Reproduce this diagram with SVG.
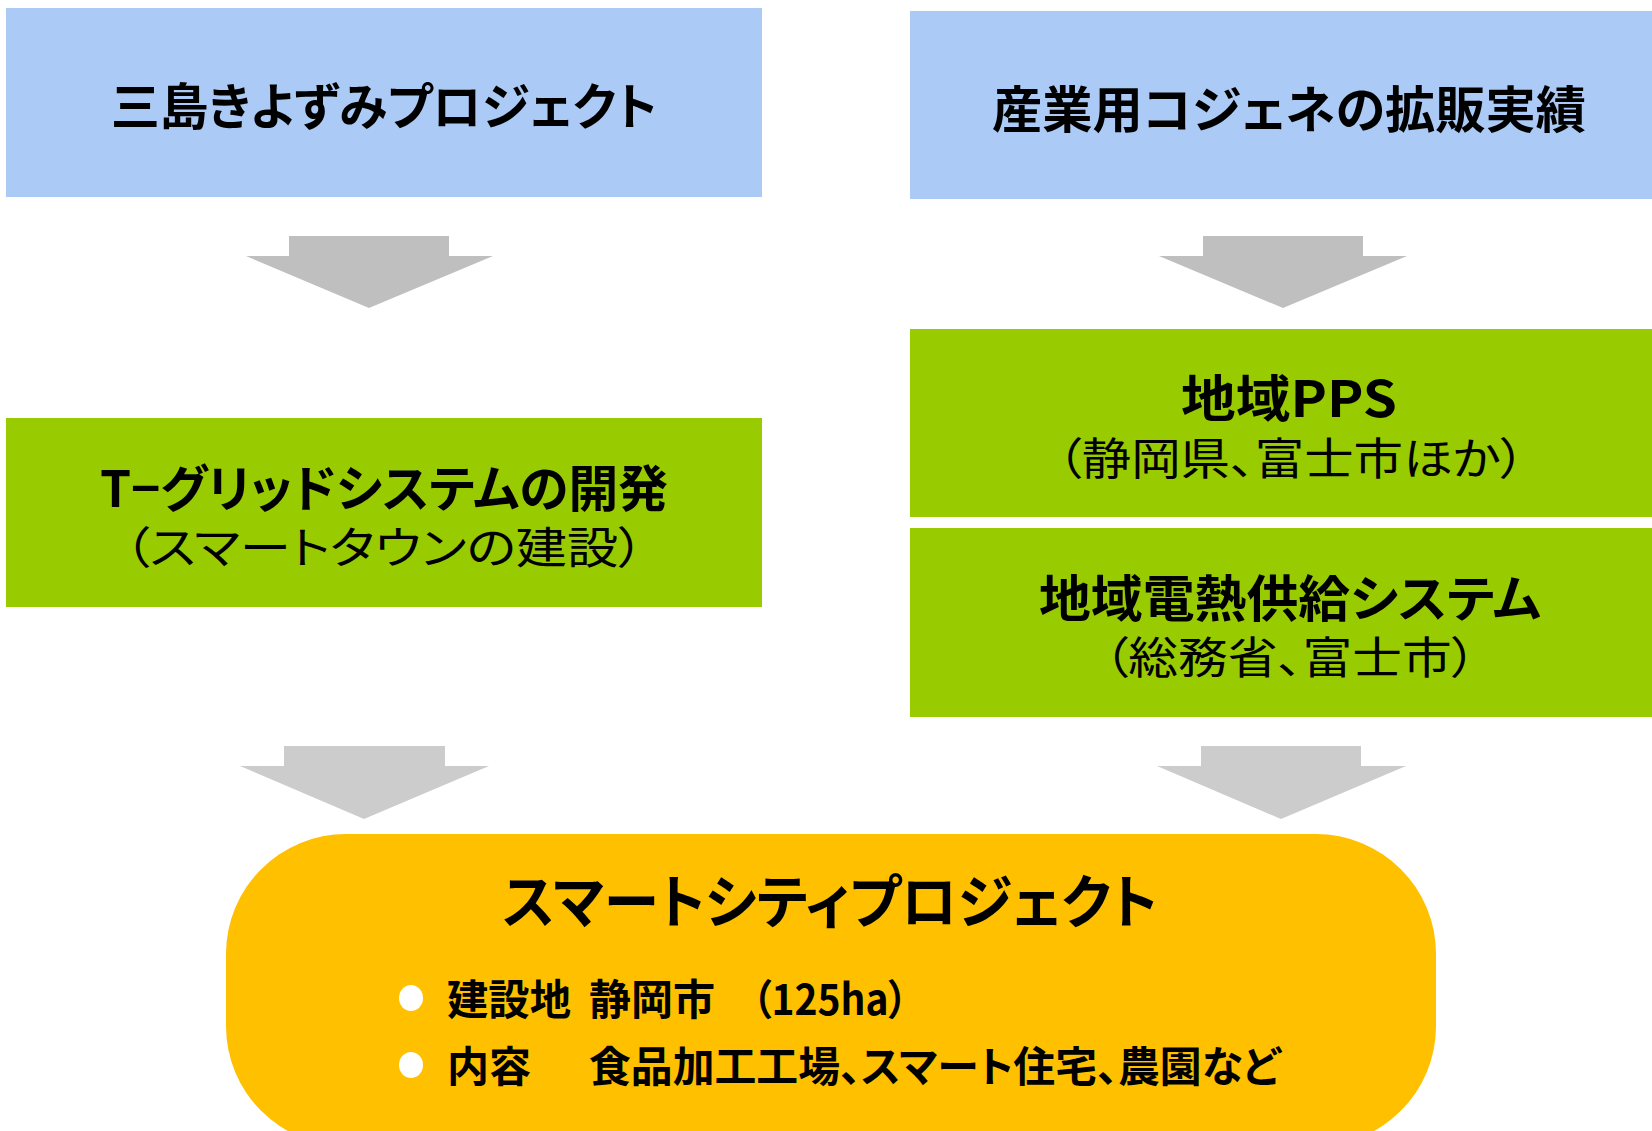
<svg xmlns="http://www.w3.org/2000/svg" width="1652" height="1131" viewBox="0 0 1652 1131">
<style>
text{font-family:"Noto Sans CJK JP","Noto Sans",sans-serif;fill:#000;font-feature-settings:"palt";}
.t{font-weight:700;font-size:50px;}
.s{font-weight:400;font-size:44px;}
.b{font-weight:700;font-size:42px;}
.blue{fill:#ABCAF5;}
.green{fill:#99CC00;}
.arrA{fill:#BFBFBF;}
.arrB{fill:#CCCCCC;}
</style>
<rect width="1652" height="1131" fill="#FFFFFF"/>
<g id="connectors">
<polygon class="arrA" points="289,236 449,236 449,256 493,256 369,308 246,256 289,256"/>
<polygon class="arrA" points="1203,236 1363,236 1363,256 1407,256 1283,308 1159,256 1203,256"/>
<polygon class="arrB" points="284,746 445,746 445,766 489,766 364,819 240,766 284,766"/>
<polygon class="arrB" points="1201,746 1361,746 1361,766 1406,766 1281,819 1157,766 1201,766"/>
</g>
<g id="node-mishima">
<rect class="blue" x="6" y="8" width="756" height="189"/>
<text class="t" x="384" y="125" text-anchor="middle" textLength="546" lengthAdjust="spacingAndGlyphs">三島きよずみプロジェクト</text>
</g>
<g id="node-cogene">
<rect class="blue" x="910" y="11" width="742" height="188"/>
<text class="t" x="1289" y="128" text-anchor="middle" textLength="594" lengthAdjust="spacingAndGlyphs">産業用コジェネの拡販実績</text>
</g>
<g id="node-tgrid">
<rect class="green" x="6" y="418" width="756" height="189"/>
<text class="t" x="384" y="507" text-anchor="middle" textLength="568" lengthAdjust="spacingAndGlyphs">T−グリッドシステムの開発</text>
<text class="s" x="384" y="564" text-anchor="middle" textLength="520" lengthAdjust="spacingAndGlyphs">（スマートタウンの建設）</text>
</g>
<g id="node-pps">
<rect class="green" x="910" y="329" width="742" height="188"/>
<text class="t" x="1289" y="417" text-anchor="middle" textLength="216" lengthAdjust="spacingAndGlyphs">地域PPS</text>
<text class="s" x="1291" y="475" text-anchor="middle" textLength="468" lengthAdjust="spacingAndGlyphs">（静岡県、富士市ほか）</text>
</g>
<g id="node-heat">
<rect class="green" x="910" y="528" width="742" height="189"/>
<text class="t" x="1290" y="617" text-anchor="middle" textLength="502" lengthAdjust="spacingAndGlyphs">地域電熱供給システム</text>
<text class="s" x="1290" y="674" text-anchor="middle" textLength="373" lengthAdjust="spacingAndGlyphs">（総務省、富士市）</text>
</g>
<g id="node-smartcity">
<rect x="226" y="834" width="1210" height="312" rx="120" ry="120" fill="#FFC000"/>
<text x="830" y="923" text-anchor="middle" font-weight="700" font-size="58" textLength="655" lengthAdjust="spacingAndGlyphs">スマートシティプロジェクト</text>
<ellipse cx="411" cy="998" rx="12" ry="13" fill="#FFFFFF"/>
<ellipse cx="411" cy="1065" rx="12" ry="13" fill="#FFFFFF"/>
<text class="b" x="447" y="1015" textLength="124" lengthAdjust="spacingAndGlyphs">建設地</text>
<text class="b" x="589" y="1015" textLength="126" lengthAdjust="spacingAndGlyphs">静岡市</text>
<text class="b" x="752" y="1015" textLength="156" lengthAdjust="spacingAndGlyphs">（125ha）</text>
<text class="b" x="447" y="1082" textLength="84" lengthAdjust="spacingAndGlyphs">内容</text>
<text class="b" x="589" y="1082" textLength="691" lengthAdjust="spacingAndGlyphs">食品加工工場、スマート住宅、農園など</text>
</g>
</svg>
